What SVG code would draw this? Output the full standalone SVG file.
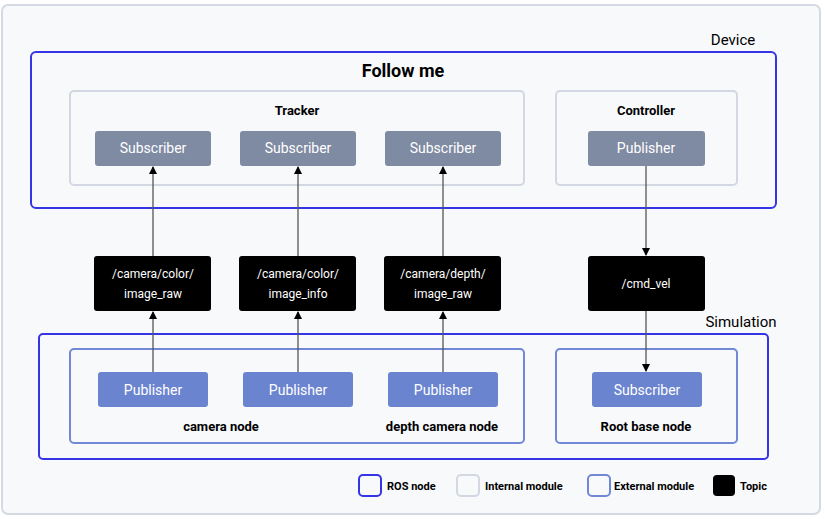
<svg xmlns="http://www.w3.org/2000/svg" width="825" height="519" viewBox="0 0 825 519">
<style>
text{font-family:Roboto,"Liberation Sans",sans-serif;}
.ros{fill:none;stroke:#3535e6;stroke-width:2}
.int{fill:none;stroke:#d3d7e2;stroke-width:2}
.ext{fill:none;stroke:#7288d6;stroke-width:2}
.sub{fill:#7f8aa3}
.pub{fill:#6b84d0}
.topic{fill:#000}
.w{fill:#fff;font-size:14px;text-anchor:middle}
.tw{fill:#fff;font-size:12px;text-anchor:middle}
.b{fill:#000;font-size:13px;font-weight:bold;text-anchor:middle}
.lg{fill:#000;font-size:11px;font-weight:bold}
.c{stroke:#555;stroke-width:1.3;fill:none;marker-end:url(#a)}
</style>
<defs><marker id="a" markerWidth="8" markerHeight="8" refX="7" refY="4" orient="auto" markerUnits="userSpaceOnUse"><path d="M0,0L8,4L0,8z" fill="#000"/></marker></defs>
<rect x="2" y="5" width="818" height="509" rx="6" fill="#f8f9fb" stroke="#d5d9e3" stroke-width="2"/>
<text x="733" y="45" font-size="15" text-anchor="middle">Device</text>
<g id="followme"><rect class="ros" x="31" y="52" width="745" height="156" rx="5"/><text x="403" y="77" font-size="18" font-weight="bold" text-anchor="middle">Follow me</text></g>
<g id="tracker"><rect class="int" x="70" y="91" width="454" height="94" rx="4"/><text class="b" x="297" y="115">Tracker</text></g>
<g id="controller"><rect class="int" x="556" y="91" width="181" height="94" rx="4"/><text class="b" x="646" y="115">Controller</text></g>
<g id="sub1"><rect class="sub" x="95" y="131" width="116" height="35" rx="3"/><text class="w" x="153" y="153">Subscriber</text></g>
<g id="sub2"><rect class="sub" x="240" y="131" width="116" height="35" rx="3"/><text class="w" x="298" y="153">Subscriber</text></g>
<g id="sub3"><rect class="sub" x="385" y="131" width="116" height="35" rx="3"/><text class="w" x="443" y="153">Subscriber</text></g>
<g id="pubc"><rect class="sub" x="588" y="131" width="117" height="35" rx="3"/><text class="w" x="646" y="153">Publisher</text></g>
<g id="t1"><rect class="topic" x="94" y="256" width="117" height="55" rx="3"/><text class="tw" x="153" y="278">/camera/color/</text><text class="tw" x="153" y="298">image_raw</text></g>
<g id="t2"><rect class="topic" x="239" y="256" width="117" height="55" rx="3"/><text class="tw" x="298" y="278">/camera/color/</text><text class="tw" x="298" y="298">image_info</text></g>
<g id="t3"><rect class="topic" x="384" y="256" width="117" height="55" rx="3"/><text class="tw" x="443" y="278">/camera/depth/</text><text class="tw" x="443" y="298">image_raw</text></g>
<g id="t4"><rect class="topic" x="588" y="256" width="117" height="55" rx="3"/><text class="tw" x="646" y="288">/cmd_vel</text></g>
<text x="741" y="327" font-size="15" text-anchor="middle">Simulation</text>
<g id="simulation"><rect class="ros" x="39" y="334" width="729" height="125" rx="4" stroke="#4a4ae6"/></g>
<g id="camnode"><rect class="ext" x="70" y="349" width="454" height="94" rx="4"/><text class="b" x="221" y="431">camera node</text><text class="b" x="442" y="431">depth camera node</text></g>
<g id="rootbase"><rect class="ext" x="556" y="349" width="181" height="94" rx="4"/><text class="b" x="646" y="431">Root base  node</text></g>
<g id="p1"><rect class="pub" x="98" y="372" width="110" height="35" rx="3"/><text class="w" x="153" y="395">Publisher</text></g>
<g id="p2"><rect class="pub" x="243" y="372" width="110" height="35" rx="3"/><text class="w" x="298" y="395">Publisher</text></g>
<g id="p3"><rect class="pub" x="388" y="372" width="110" height="35" rx="3"/><text class="w" x="443" y="395">Publisher</text></g>
<g id="s4"><rect class="pub" x="592" y="372" width="110" height="35" rx="3"/><text class="w" x="647" y="395">Subscriber</text></g>
<g id="connectors">
<line class="c" x1="153" y1="256" x2="153" y2="167"/>
<line class="c" x1="298" y1="256" x2="298" y2="167"/>
<line class="c" x1="443" y1="256" x2="443" y2="167"/>
<line class="c" x1="646" y1="166" x2="646" y2="255"/>
<line class="c" x1="153" y1="372" x2="153" y2="312"/>
<line class="c" x1="298" y1="372" x2="298" y2="312"/>
<line class="c" x1="443" y1="372" x2="443" y2="312"/>
<line class="c" x1="646" y1="311" x2="646" y2="371"/>
</g>
<g id="legend">
<rect class="ros" x="359" y="475" width="22" height="21" rx="4"/><text class="lg" x="387" y="490">ROS node</text>
<rect class="int" x="457" y="475" width="22" height="21" rx="4"/><text class="lg" x="485" y="490">Internal module</text>
<rect class="ext" x="588" y="475" width="22" height="21" rx="4"/><text class="lg" x="614" y="490">External module</text>
<rect class="topic" x="713" y="475" width="22" height="21" rx="4"/><text class="lg" x="740" y="490">Topic</text>
</g>
</svg>
